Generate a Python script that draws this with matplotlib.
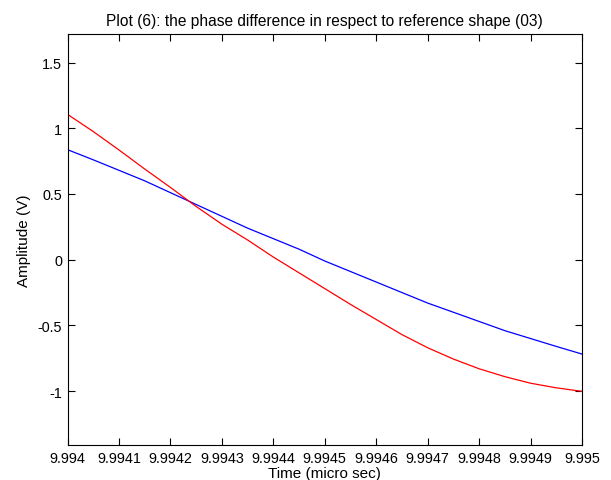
import matplotlib
matplotlib.use('Agg')
import matplotlib.pyplot as plt
import numpy as np

plt.rcParams['font.family'] = ['Liberation Sans', 'DejaVu Sans']

# time axis (micro sec)
t = [9.99400, 9.99405, 9.99410, 9.99415, 9.99420, 9.99425, 9.99430,
     9.99435, 9.99440, 9.99445, 9.99450, 9.99455, 9.99460, 9.99465,
     9.99470, 9.99475, 9.99480, 9.99485, 9.99490, 9.99495, 9.99500]

# reference shape (blue)
ref_amp = [0.837, 0.760, 0.680, 0.600, 0.510, 0.420, 0.330, 0.240, 0.160,
           0.080, -0.010, -0.090, -0.170, -0.250, -0.330, -0.400, -0.470,
           -0.540, -0.600, -0.660, -0.718]

# shifted shape (red)
shift_amp = [1.106, 0.975, 0.835, 0.690, 0.550, 0.405, 0.270, 0.150, 0.020,
             -0.100, -0.220, -0.340, -0.455, -0.570, -0.670, -0.756, -0.830,
             -0.890, -0.940, -0.975, -1.002]

xticks = [9.994, 9.9941, 9.9942, 9.9943, 9.9944, 9.9945, 9.9946, 9.9947,
          9.9948, 9.9949, 9.995]
xtick_labels = ['9.994', '9.9941', '9.9942', '9.9943', '9.9944', '9.9945',
                '9.9946', '9.9947', '9.9948', '9.9949', '9.995']
yticks = [-1, -0.5, 0, 0.5, 1, 1.5]
ytick_labels = ['-1', '-0.5', '0', '0.5', '1', '1.5']

fig = plt.figure(figsize=(6.11, 4.81), dpi=100)
ax = fig.add_axes([0.1105, 0.0728, 0.842, 0.8552])

ax.plot(t, ref_amp, color='#0000ff', linewidth=0.9)
ax.plot(t, shift_amp, color='#ff0000', linewidth=0.9)

ax.set_xlim(9.994, 9.995)
ax.set_ylim(-1.41, 1.72)
ax.set_xticks(xticks)
ax.set_xticklabels(xtick_labels)
ax.set_yticks(yticks)
ax.set_yticklabels(ytick_labels)
ax.tick_params(direction='in', top=True, right=True, length=5, width=0.8,
               labelsize=10.4, colors='black', pad=4)
for s in ax.spines.values():
    s.set_linewidth(0.8)

ax.set_title('Plot (6): the phase difference in respect to reference shape (03)',
             fontsize=11.2, pad=6)
ax.set_xlabel('Time (micro sec)', fontsize=11, labelpad=1)
ax.set_ylabel('Amplitude (V)', fontsize=11, labelpad=5)

fig.savefig('out.png', dpi=100)
